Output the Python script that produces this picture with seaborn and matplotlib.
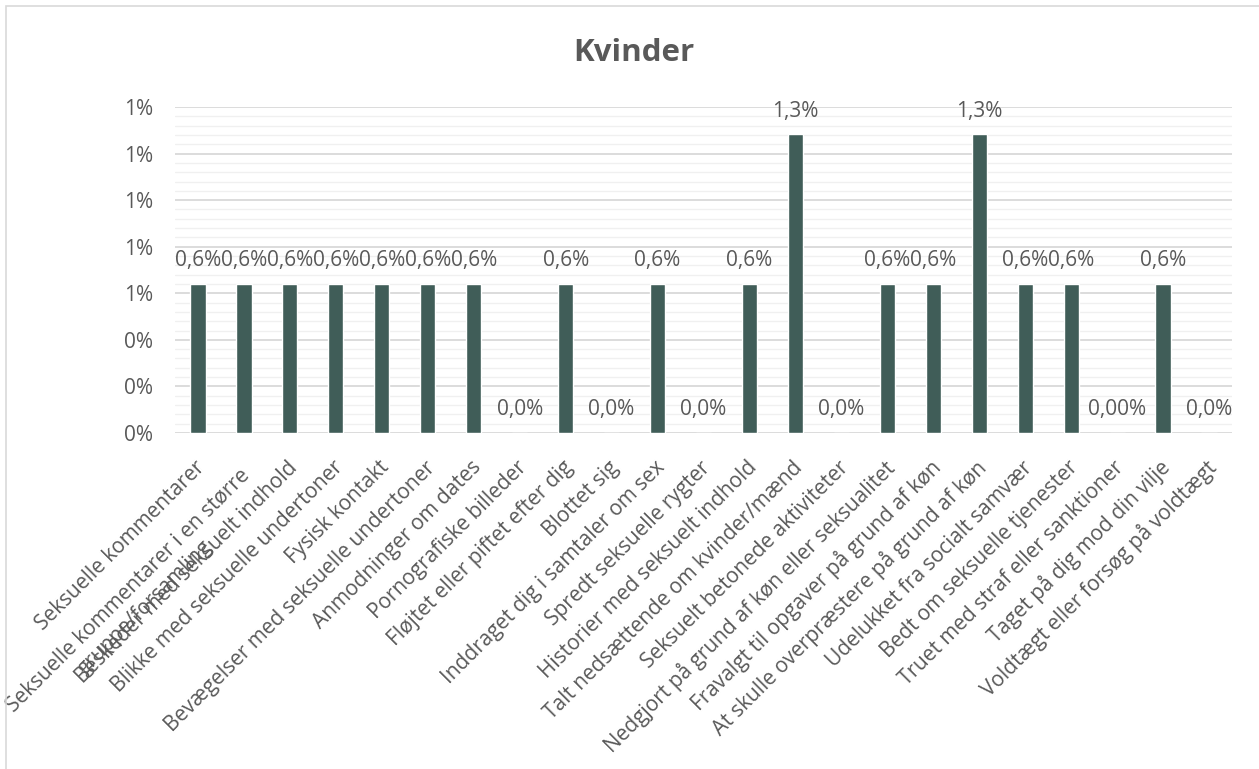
import numpy as np
import pandas as pd
import matplotlib
matplotlib.use("Agg")
import matplotlib.pyplot as plt
import matplotlib.transforms as mtransforms
from matplotlib.patches import Rectangle
from matplotlib.ticker import MultipleLocator, FuncFormatter
import seaborn as sns

# data (share of women, in percent)
categories = [
    "Seksuelle kommentarer",
    "Seksuelle kommentarer i en større\ngruppe/forsamling",
    "Beskeder med seksuelt indhold",
    "Blikke med seksuelle undertoner",
    "Fysisk kontakt",
    "Bevægelser med seksuelle undertoner",
    "Anmodninger om dates",
    "Pornografiske billeder",
    "Fløjtet eller piftet efter dig",
    "Blottet sig",
    "Inddraget dig i samtaler om sex",
    "Spredt seksuelle rygter",
    "Historier med seksuelt indhold",
    "Talt nedsættende om kvinder/mænd",
    "Seksuelt betonede aktiviteter",
    "Nedgjort på grund af køn eller seksualitet",
    "Fravalgt til opgaver på grund af køn",
    "At skulle overpræstere på grund af køn",
    "Udelukket fra socialt samvær",
    "Bedt om seksuelle tjenester",
    "Truet med straf eller sanktioner",
    "Taget på dig mod din vilje",
    "Voldtægt eller forsøg på voldtægt",
]
values = [0.641, 0.641, 0.641, 0.641, 0.641, 0.641, 0.641, 0.0, 0.641, 0.0,
          0.641, 0.0, 0.641, 1.282, 0.0, 0.641, 0.641, 1.282, 0.641, 0.641,
          0.0, 0.641, 0.0]
value_labels = ["0,6%", "0,6%", "0,6%", "0,6%", "0,6%", "0,6%", "0,6%", "0,0%",
                "0,6%", "0,0%", "0,6%", "0,0%", "0,6%", "1,3%", "0,0%", "0,6%",
                "0,6%", "1,3%", "0,6%", "0,6%", "0,00%", "0,6%", "0,0%"]

df = pd.DataFrame({"kategori": categories, "andel": values})

sns.set_style("white")
plt.rcParams["font.family"] = ["Open Sans", "DejaVu Sans"]
grey = "#595959"
bar_color = "#405D58"

fig = plt.figure(figsize=(12.59, 7.69), dpi=100)
ax = fig.add_axes([175 / 1259, 1 - 433 / 769, (1232 - 175) / 1259, (433 - 107) / 769])

sns.barplot(data=df, x="kategori", y="andel", color=bar_color, width=0.33,
            saturation=1, ax=ax, zorder=3)

ax.set_ylim(0, 1.4)
ax.set_xlim(-0.5, len(categories) - 0.5)
ax.yaxis.set_major_locator(MultipleLocator(0.2))
ax.yaxis.set_minor_locator(MultipleLocator(0.04))
ax.yaxis.set_major_formatter(FuncFormatter(lambda v, p: f"{round(v + 1e-9):.0f}%"))
ax.grid(axis="y", which="major", color="#D9D9D9", linewidth=1.3, zorder=0)
ax.grid(axis="y", which="minor", color="#F0F0F0", linewidth=1.0, zorder=0)
ax.set_axisbelow(True)
for s in ax.spines.values():
    s.set_visible(False)
ax.tick_params(axis="y", which="both", length=0, pad=16, labelsize=15, labelcolor=grey)
ax.tick_params(axis="x", length=0, labelbottom=False)
ax.set_xlabel("")
ax.set_ylabel("")

# rotated category labels, ending just right of each bar centre
for i, name in enumerate(categories):
    if "\n" in name:
        dx, dy = 0.11, -0.475
    else:
        dx, dy = 0.04, -0.315
    off = mtransforms.ScaledTranslation(dx, dy, fig.dpi_scale_trans)
    ax.text(i, 0, name, transform=ax.get_xaxis_transform() + off,
            rotation=45, rotation_mode="anchor", ha="right", va="center",
            multialignment="center", fontsize=15, color=grey, clip_on=False)

# data labels
for i, (v, t) in enumerate(zip(values, value_labels)):
    ax.annotate(t, (i, v), xytext=(0, 9), textcoords="offset points",
                ha="center", va="bottom", fontsize=15, color=grey,
                annotation_clip=False)

fig.text(634 / 1259, 1 - 53 / 769, "Kvinder", fontsize=22.5, fontweight="bold",
         color=grey, ha="center", va="center")

# chart frame (cut off at the right and bottom edge)
fig.patches.append(Rectangle((6 / 1259, -0.2), 1.2, 1.2 - 6.5 / 769,
                             transform=fig.transFigure, fill=False,
                             edgecolor="#D9D9D9", linewidth=1.2))

fig.savefig("out.png", dpi=100)
